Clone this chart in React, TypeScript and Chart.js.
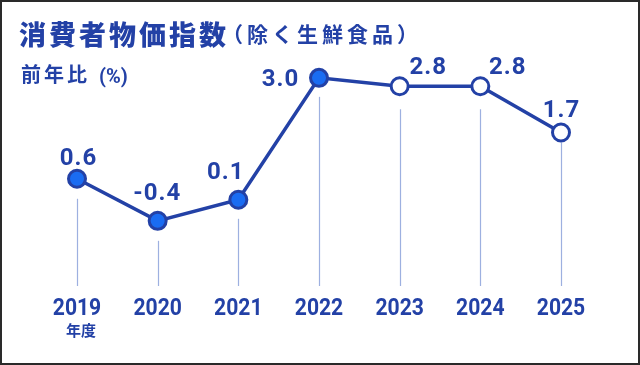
import { useEffect, useRef } from 'react';
import { Chart, registerables } from 'chart.js';

Chart.register(...registerables);

// ---- data ----
const FISCAL_YEARS = ['2019', '2020', '2021', '2022', '2023', '2024', '2025'];
const CPI_YOY = [0.6, -0.4, 0.1, 3.0, 2.8, 2.8, 1.7];
const VALUE_TEXT = ['0.6', '-0.4', '0.1', '3.0', '2.8', '2.8', '1.7'];
const IS_OUTLOOK = [false, false, false, false, true, true, true];
const Y_MIN = -1.95;
const Y_MAX = 3.9;

const TITLE = '消費者物価指数';
const SUBTITLE = '（除く生鮮食品）';
const UNIT_LABEL = '前年比';
const UNIT_SYMBOL = '(%)';
const YEAR_SUFFIX = '年度';

// ---- styles ----
const DARK = '#2341a6';
const BRIGHT = '#1a6cf2';
const DROP = '#9db0e0';
const LABEL_OFFSET: [number, number][] = [
  [1, -22], [-1, -29], [-13, -29], [-39, 0], [28, -21], [27, -21], [0, -24],
];
const DROP_GAP = [20, 20, 19, 19, 23, 23, 10];

const NUM_FONT = '"Roboto", "DejaVu Sans", sans-serif';
const JP_FONT = '"Noto Sans CJK JP", "Noto Sans", sans-serif';

const decorPlugin = {
  id: 'decor',
  beforeDraw(chart: any) {
    const ctx = chart.ctx as CanvasRenderingContext2D;
    ctx.save();
    ctx.fillStyle = '#ffffff';
    ctx.fillRect(0, 0, chart.width, chart.height);
    ctx.restore();
  },
  beforeDatasetsDraw(chart: any) {
    const ctx = chart.ctx as CanvasRenderingContext2D;
    const meta = chart.getDatasetMeta(0);
    const bottom = chart.chartArea.bottom;
    ctx.save();
    ctx.strokeStyle = DROP;
    ctx.lineWidth = 1.2;
    meta.data.forEach((pt: any, i: number) => {
      const x = Math.round(pt.x) + 0.5;
      ctx.beginPath();
      ctx.moveTo(x, pt.y + DROP_GAP[i]);
      ctx.lineTo(x, bottom);
      ctx.stroke();
    });
    ctx.restore();
  },
  afterDraw(chart: any) {
    const ctx = chart.ctx as CanvasRenderingContext2D;
    const meta = chart.getDatasetMeta(0);
    const xScale = chart.scales.x;
    ctx.save();
    ctx.fillStyle = DARK;

    // value labels
    ctx.font = `bold 24px ${NUM_FONT}`;
    (ctx as any).letterSpacing = '1px';
    ctx.textBaseline = 'alphabetic';
    ctx.textAlign = 'center';
    meta.data.forEach((pt: any, i: number) => {
      const [dx, dy] = LABEL_OFFSET[i];
      ctx.fillText(VALUE_TEXT[i], pt.x + dx + 0.5, pt.y + dy + 8.5);
    });

    // x tick labels (slightly condensed)
    (ctx as any).letterSpacing = '0px';
    ctx.font = `bold 24px ${NUM_FONT}`;
    ctx.textAlign = 'center';
    FISCAL_YEARS.forEach((yr, i) => {
      const x = xScale.getPixelForValue(i);
      ctx.save();
      ctx.translate(x, 315);
      ctx.scale(0.88, 1);
      ctx.fillText(yr, 0, 0);
      ctx.restore();
    });
    ctx.font = `bold 15px ${JP_FONT}`;
    ctx.fillText(YEAR_SUFFIX, xScale.getPixelForValue(0) + 4, 336);

    // titles
    ctx.textAlign = 'left';
    (ctx as any).letterSpacing = '3px';
    ctx.font = `900 27px ${JP_FONT}`;
    ctx.fillText(TITLE, 19, 44.5);
    (ctx as any).letterSpacing = '4px';
    ctx.font = `bold 21px ${JP_FONT}`;
    ctx.fillText(SUBTITLE, 222, 42);
    (ctx as any).letterSpacing = '3px';
    ctx.font = `bold 20px ${JP_FONT}`;
    ctx.fillText(UNIT_LABEL, 21, 82);
    (ctx as any).letterSpacing = '0px';
    ctx.font = `bold 20px ${NUM_FONT}`;
    ctx.fillText(UNIT_SYMBOL, 99, 83);

    // frame
    ctx.strokeStyle = '#2a2a2a';
    ctx.lineWidth = 2;
    ctx.strokeRect(1, 1, chart.width - 2, chart.height - 2);
    ctx.restore();
  },
};

export default function App() {
  const canvasRef = useRef<HTMLCanvasElement | null>(null);

  useEffect(() => {
    if (!canvasRef.current) return;
    const chart = new Chart(canvasRef.current, {
      type: 'line',
      data: {
        labels: FISCAL_YEARS,
        datasets: [
          {
            data: CPI_YOY,
            borderColor: DARK,
            borderWidth: 3.5,
            tension: 0,
            pointRadius: 8.5,
            pointHoverRadius: 8.5,
            pointBorderWidth: 3,
            pointBorderColor: DARK,
            pointBackgroundColor: IS_OUTLOOK.map((o) => (o ? '#ffffff' : BRIGHT)),
            clip: false as any,
          },
        ],
      },
      options: {
        responsive: false,
        animation: false,
        layout: { padding: { left: 77, right: 79, top: 40, bottom: 79 } },
        scales: {
          x: { type: 'category', display: false, offset: false },
          y: { display: false, min: Y_MIN, max: Y_MAX },
        },
        plugins: { legend: { display: false }, tooltip: { enabled: false } },
        events: [],
      },
      plugins: [decorPlugin],
    });
    return () => chart.destroy();
  }, []);

  return (
    <div style={{ position: 'fixed', left: 0, top: 0, width: 640, height: 365 }}>
      <canvas ref={canvasRef} width={640} height={365} />
    </div>
  );
}
